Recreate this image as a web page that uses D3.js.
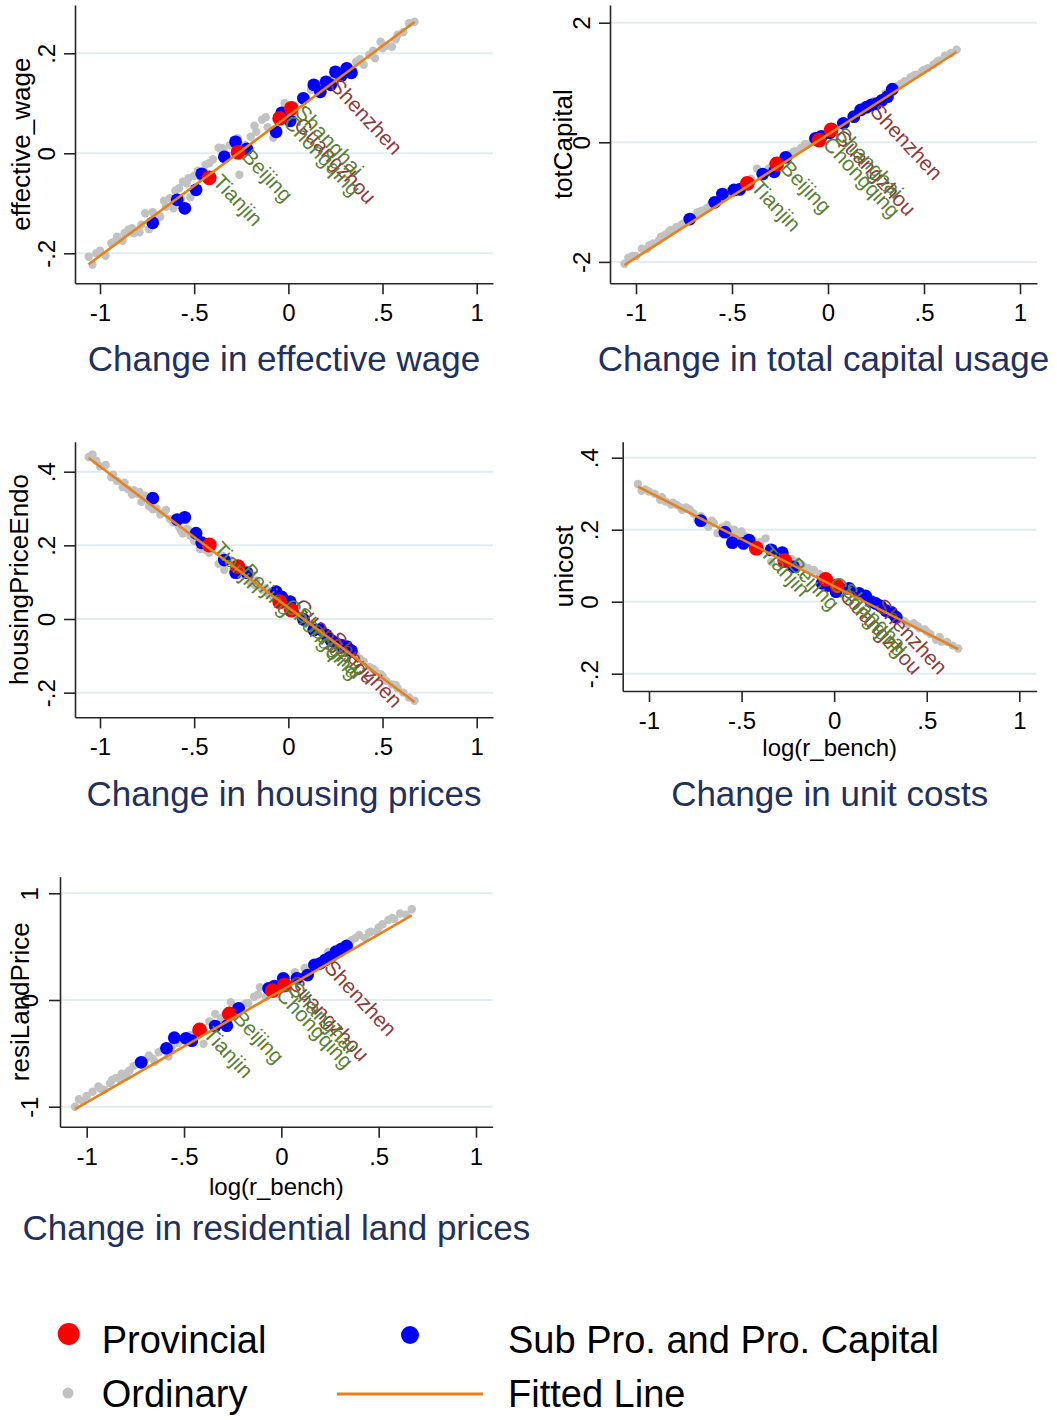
<!DOCTYPE html>
<html>
<head>
<meta charset="utf-8">
<script src="https://cdn.jsdelivr.net/npm/d3@7"></script>
<style>
  body { margin: 0; background: #ffffff; }
  svg text { font-family: "Liberation Sans", Arial, Helvetica, sans-serif; }
</style>
</head>
<body>
<svg id="chart" width="1057" height="1420"></svg>
<script>
// ---------- data ----------
// x: log(r_bench) for ordinary prefecture cities
const ordinaryX = [-1.06,-1.04,-1.00,-0.97,-0.94,-0.91,-0.88,-0.85,-0.82,-0.80,
  -0.78,-0.76,-0.74,-0.70,-0.68,-0.65,-0.63,-0.61,-0.58,-0.56,
  -0.54,-0.52,-0.50,-0.47,-0.44,-0.40,-0.37,-0.34,-0.31,-0.29,
  -0.26,-0.23,-0.20,-0.17,-0.14,-0.11,-0.08,-0.05,-0.02,0.03,
  0.07,0.12,0.18,0.24,0.30,0.36,0.40,0.43,0.46,0.49,
  0.52,0.55,0.58,0.61,0.64,0.67,
  -1.02,-0.93,-0.87,-0.83,-0.79,-0.72,-0.66,-0.60,-0.57,-0.53,
  -0.48,-0.42,-0.35,-0.27,-0.18,-0.12,0.38,0.45,0.50,0.57];

// x: log(r_bench) for sub-provincial cities and provincial capitals
const subCapitalX = [-0.72,-0.59,-0.55,-0.49,-0.46,-0.34,-0.28,-0.22,-0.065,-0.035,
  0.01,0.08,0.135,0.17,0.2,0.225,0.25,0.28,0.31,0.335];
const subCapitalNames = ["","","","","","","","","","",
  "Guangzhou","","","","Shenzhen","","","","",""];

// x: log(r_bench) for provincial-level municipalities
const provincialX = [-0.42,-0.267,-0.046,0.016];
const provincialNames = ["Tianjin","Beijing","Chongqing","Shanghai"];

// effective_wage
const wageOrdinary = [-0.207,-0.223,-0.195,-0.205,-0.180,-0.167,-0.175,-0.153,-0.160,-0.157,
  -0.143,-0.120,-0.152,-0.130,-0.127,-0.107,-0.090,-0.110,-0.070,-0.057,
  -0.060,-0.088,-0.045,-0.047,-0.023,-0.012,0.011,0.002,0.016,0.027,
  -0.043,0.016,0.033,0.043,0.067,0.052,0.031,0.073,0.100,0.073,
  0.113,0.127,0.137,0.153,0.167,0.183,0.177,0.197,0.190,0.223,
  0.215,0.213,0.237,0.242,0.260,0.263,
  -0.200,-0.178,-0.160,-0.150,-0.158,-0.118,-0.095,-0.075,-0.092,-0.050,
  -0.035,-0.020,0.010,0.030,0.055,0.072,0.188,0.205,0.210,0.228];
const wageSubCapital = [-0.139,-0.093,-0.110,-0.073,-0.041,-0.007,0.023,0.009,0.043,0.081,
  0.065,0.110,0.137,0.123,0.143,0.137,0.163,0.155,0.170,0.161];
const wageProvincial = [-0.049,0.002,0.070,0.090];

// totCapital
const capitalOrdinary = [-2.03,-1.93,-1.90,-1.78,-1.78,-1.69,-1.64,-1.55,-1.47,-1.46,
  -1.41,-1.37,-1.33,-1.25,-1.17,-1.14,-1.10,-1.03,-0.99,-0.96,
  -0.89,-0.87,-0.83,-0.76,-0.70,-0.61,-0.44,-0.50,-0.44,-0.38,
  -0.34,-0.27,-0.20,-0.15,-0.09,-0.04,0.03,0.08,0.13,0.24,
  0.33,0.43,0.56,0.69,0.82,0.94,1.02,1.09,1.13,1.19,
  1.24,1.30,1.37,1.45,1.49,1.55,
  -1.90,-1.72,-1.58,-1.50,-1.42,-1.27,-1.15,-1.02,-0.97,-0.88,
  -0.77,-0.66,-0.50,-0.33,-0.16,-0.03,0.98,1.12,1.21,1.35];
const capitalSubCapital = [-1.284,-1.004,-0.865,-0.798,-0.787,-0.531,-0.494,-0.251,0.067,0.10,
  0.16,0.318,0.429,0.541,0.586,0.624,0.641,0.70,0.763,0.887];
const capitalProvincial = [-0.686,-0.363,0.038,0.206];

// housingPriceEndo
const housingOrdinary = [0.440,0.447,0.415,0.418,0.385,0.375,0.358,0.352,0.350,0.340,
  0.318,0.335,0.306,0.300,0.284,0.296,0.272,0.262,0.250,0.232,
  0.245,0.226,0.212,0.190,0.188,0.205,0.150,0.133,0.160,0.148,
  0.120,0.128,0.100,0.105,0.080,0.070,0.060,0.055,0.035,0.018,
  0.008,-0.015,-0.035,-0.055,-0.078,-0.098,-0.115,-0.130,-0.140,-0.150,
  -0.168,-0.178,-0.188,-0.200,-0.213,-0.222,
  0.430,0.392,0.370,0.338,0.345,0.298,0.290,0.268,0.240,0.242,
  0.222,0.180,0.172,0.138,0.092,0.083,-0.108,-0.135,-0.155,-0.180];
const housingSubCapital = [0.328,0.270,0.276,0.233,0.207,0.160,0.126,0.126,0.074,0.060,
  0.047,-0.001,-0.030,-0.028,-0.043,-0.057,-0.065,-0.071,-0.075,-0.086];
const housingProvincial = [0.201,0.142,0.047,0.024];

// unicost
const unitCostOrdinary = [0.327,0.308,0.306,0.300,0.283,0.278,0.270,0.269,0.255,0.262,
  0.256,0.245,0.229,0.222,0.208,0.218,0.190,0.205,0.213,0.190,
  0.200,0.185,0.195,0.178,0.171,0.165,0.176,0.111,0.130,0.140,
  0.125,0.118,0.111,0.100,0.093,0.088,0.078,0.071,0.060,0.045,
  0.030,0.016,0.002,-0.012,-0.032,-0.051,-0.063,-0.060,-0.074,-0.077,
  -0.090,-0.106,-0.111,-0.112,-0.122,-0.130,
  0.312,0.290,0.275,0.262,0.258,0.238,0.225,0.207,0.205,0.192,
  0.182,0.160,0.150,0.128,0.105,0.085,-0.054,-0.068,-0.083,-0.098];
const unitCostSubCapital = [0.225,0.193,0.164,0.162,0.171,0.144,0.136,0.097,0.051,0.045,
  0.028,0.037,0.023,0.016,0.000,-0.005,-0.012,-0.025,-0.030,-0.043];
const unitCostProvincial = [0.148,0.114,0.062,0.044];

// resiLandPrice
const landOrdinary = [-1.00,-0.93,-0.90,-0.86,-0.81,-0.84,-0.78,-0.73,-0.69,-0.72,
  -0.66,-0.62,-0.60,-0.56,-0.52,-0.58,-0.49,-0.47,-0.53,-0.43,
  -0.40,-0.38,-0.36,-0.33,-0.31,-0.41,-0.20,-0.13,-0.17,-0.14,
  -0.02,-0.09,-0.05,-0.03,0.03,0.12,0.03,0.10,0.12,0.16,
  0.26,0.30,0.33,0.45,0.49,0.56,0.61,0.58,0.64,0.64,
  0.71,0.75,0.76,0.81,0.80,0.85,
  -0.95,-0.83,-0.75,-0.74,-0.68,-0.60,-0.55,-0.47,-0.46,-0.40,
  -0.36,-0.30,-0.22,-0.10,-0.03,0.05,0.58,0.63,0.68,0.77];
const landSubCapital = [-0.584,-0.453,-0.353,-0.359,-0.381,-0.244,-0.241,-0.078,0.109,0.13,
  0.203,0.203,0.234,0.328,0.344,0.375,0.40,0.453,0.48,0.506];
const landProvincial = [-0.28,-0.13,0.087,0.14];

// linear fits (intercept, slope) for each panel
const fitIntercepts = [0.075, 0.13, 0.031, 0.043, 0.09];
const fitSlopes = [0.28, 2.06, -0.383, -0.261, 1.05];

// axis ticks
const xTicks = [-1, -0.5, 0, 0.5, 1];
const xTickLabels = ["-1", "-.5", "0", ".5", "1"];
const wageTicks = [-0.2, 0, 0.2];
const wageTickLabels = ["-.2", "0", ".2"];
const capitalTicks = [-2, 0, 2];
const capitalTickLabels = ["-2", "0", "2"];
const housingTicks = [-0.2, 0, 0.2, 0.4];
const housingTickLabels = ["-.2", "0", ".2", ".4"];
const unitCostTicks = [-0.2, 0, 0.2, 0.4];
const unitCostTickLabels = ["-.2", "0", ".2", ".4"];
const landTicks = [-1, 0, 1];
const landTickLabels = ["-1", "0", "1"];

const panelTitles = ["Change in effective wage", "Change in total capital usage",
  "Change in housing prices", "Change in unit costs", "Change in residential land prices"];
const yTitles = ["effective_wage", "totCapital", "housingPriceEndo", "unicost", "resiLandPrice"];
const xTitle = "log(r_bench)";

const legendLabels = ["Provincial", "Sub Pro. and Pro. Capital", "Ordinary", "Fitted Line"];

// ---------- styles ----------
const FONT = '"Liberation Sans", Arial, Helvetica, sans-serif';
const COL = {
  ordinary: "#c2c2c2", sub: "#0000ff", prov: "#ff0000", fit: "#e5821c",
  axis: "#262626", grid: "#e3edf0", title: "#22305c",
  provLabel: "#5c8034", subLabel: "#8e3b3b"
};

// ---------- panel layout ----------
const panels = [
  { ord: wageOrdinary, sub: wageSubCapital, prov: wageProvincial, ticks: wageTicks, tickLabels: wageTickLabels,
    frame: { left: 75, top: 5, bottom: 283.3, right: 493 }, xPix: [100, 476.7],
    yRef: [0, 0.2], yPix: [153.3, 53.3], yTickX: 55, yTitleX: 30, titleY: 371, showX: false },
  { ord: capitalOrdinary, sub: capitalSubCapital, prov: capitalProvincial, ticks: capitalTicks, tickLabels: capitalTickLabels,
    frame: { left: 610, top: 5, bottom: 283.3, right: 1037 }, xPix: [636, 1020],
    yRef: [0, 2], yPix: [142.3, 22.7], yTickX: 590, yTitleX: 572, titleY: 371, showX: false },
  { ord: housingOrdinary, sub: housingSubCapital, prov: housingProvincial, ticks: housingTicks, tickLabels: housingTickLabels,
    frame: { left: 75, top: 441.7, bottom: 717.3, right: 493 }, xPix: [100, 476.7],
    yRef: [0, 0.4], yPix: [619, 471.7], yTickX: 55, yTitleX: 28, titleY: 806, showX: false },
  { ord: unitCostOrdinary, sub: unitCostSubCapital, prov: unitCostProvincial, ticks: unitCostTicks, tickLabels: unitCostTickLabels,
    frame: { left: 622.7, top: 441.7, bottom: 691, right: 1036.7 }, xPix: [649, 1019.3],
    yRef: [0, 0.4], yPix: [601.7, 457.7], yTickX: 598, yTitleX: 573, titleY: 806, showX: true, xTitleY: 756 },
  { ord: landOrdinary, sub: landSubCapital, prov: landProvincial, ticks: landTicks, tickLabels: landTickLabels,
    frame: { left: 60, top: 876.7, bottom: 1126.7, right: 492.7 }, xPix: [86.7, 476],
    yRef: [0, 1], yPix: [1000, 893.3], yTickX: 38, yTitleX: 29, titleY: 1240, showX: true, xTitleY: 1195 }
];

const svg = d3.select("#chart");

panels.forEach((p, i) => {
  const f = p.frame;
  const g = svg.append("g").attr("class", "panel");

  const xRef = d3.scaleLinear().domain([-1, 1]).range(p.xPix);
  const yRef = d3.scaleLinear().domain(p.yRef).range(p.yPix);
  // scales spanning the full plot frame
  const x = d3.scaleLinear().domain([xRef.invert(f.left), xRef.invert(f.right)]).range([f.left, f.right]);
  const y = d3.scaleLinear().domain([yRef.invert(f.bottom), yRef.invert(f.top)]).range([f.bottom, f.top]);

  // gridlines
  g.append("g").selectAll("line").data(p.ticks).join("line")
    .attr("x1", f.left).attr("x2", f.right)
    .attr("y1", d => y(d)).attr("y2", d => y(d))
    .attr("stroke", COL.grid).attr("stroke-width", 2);

  // y axis
  const ya = g.append("g").attr("transform", `translate(${f.left},0)`)
    .call(d3.axisLeft(y).tickValues(p.ticks).tickFormat((d, k) => p.tickLabels[k]).tickSize(11).tickSizeOuter(0));
  ya.attr("color", COL.axis).attr("font-size", 24).attr("font-family", FONT);
  ya.selectAll("path, line").attr("stroke-width", 1.6);
  ya.selectAll("text")
    .attr("x", null).attr("dy", null).attr("text-anchor", "middle").attr("fill", "#000")
    .attr("transform", `translate(${p.yTickX - f.left},0) rotate(-90)`);

  // x axis
  const xa = g.append("g").attr("transform", `translate(0,${f.bottom})`)
    .call(d3.axisBottom(x).tickValues(xTicks).tickFormat((d, k) => xTickLabels[k]).tickSize(11).tickSizeOuter(0));
  xa.attr("color", COL.axis).attr("font-size", 24).attr("font-family", FONT);
  xa.selectAll("path, line").attr("stroke-width", 1.6);
  xa.selectAll("text").attr("y", 38).attr("dy", null).attr("fill", "#000");

  // y title
  g.append("text")
    .attr("transform", `translate(${p.yTitleX},${(f.top + f.bottom) / 2}) rotate(-90)`)
    .attr("text-anchor", "middle").attr("font-size", 26).attr("fill", "#000")
    .text(yTitles[i]);

  // x title
  if (p.showX) {
    g.append("text").attr("x", (f.left + f.right) / 2).attr("y", p.xTitleY)
      .attr("text-anchor", "middle").attr("font-size", 24).attr("fill", "#000")
      .text(xTitle);
  }

  // panel title
  g.append("text").attr("x", (f.left + f.right) / 2).attr("y", p.titleY)
    .attr("text-anchor", "middle").attr("font-size", 35).attr("fill", COL.title)
    .text(panelTitles[i]);

  // ordinary cities
  g.append("g").selectAll("circle").data(ordinaryX.map((v, k) => [v, p.ord[k]])).join("circle")
    .attr("cx", d => x(d[0])).attr("cy", d => y(d[1])).attr("r", 4.2).attr("fill", COL.ordinary);

  // sub-provincial cities and provincial capitals
  const subData = subCapitalX.map((v, k) => ({ x: v, y: p.sub[k], name: subCapitalNames[k] }));
  g.append("g").selectAll("circle").data(subData).join("circle")
    .attr("cx", d => x(d.x)).attr("cy", d => y(d.y)).attr("r", 6.4).attr("fill", COL.sub);
  g.append("g").selectAll("text").data(subData.filter(d => d.name)).join("text")
    .attr("transform", d => `translate(${x(d.x) + 8},${y(d.y)}) rotate(47)`)
    .attr("dy", "0.35em").attr("font-size", 21).attr("fill", COL.subLabel)
    .text(d => d.name);

  // provincial-level municipalities
  const provData = provincialX.map((v, k) => ({ x: v, y: p.prov[k], name: provincialNames[k] }));
  g.append("g").selectAll("circle").data(provData).join("circle")
    .attr("cx", d => x(d.x)).attr("cy", d => y(d.y)).attr("r", 7.4).attr("fill", COL.prov);
  g.append("g").selectAll("text").data(provData).join("text")
    .attr("transform", d => `translate(${x(d.x) + 8},${y(d.y)}) rotate(47)`)
    .attr("dy", "0.35em").attr("font-size", 21).attr("fill", COL.provLabel)
    .text(d => d.name);

  // fitted line
  const ext = d3.extent(ordinaryX);
  g.append("path")
    .datum(ext.map(v => [v, fitIntercepts[i] + fitSlopes[i] * v]))
    .attr("d", d3.line().x(d => x(d[0])).y(d => y(d[1])))
    .attr("fill", "none").attr("stroke", COL.fit).attr("stroke-width", 2.6);
});

// ---------- legend ----------
const lg = svg.append("g").attr("font-size", 38).attr("fill", "#000");
lg.append("circle").attr("cx", 68.7).attr("cy", 1334).attr("r", 11).attr("fill", COL.prov);
lg.append("text").attr("x", 101.7).attr("y", 1353).text(legendLabels[0]);
lg.append("circle").attr("cx", 410).attr("cy", 1335).attr("r", 9).attr("fill", COL.sub);
lg.append("text").attr("x", 508).attr("y", 1353).text(legendLabels[1]);
lg.append("circle").attr("cx", 68).attr("cy", 1393).attr("r", 5.5).attr("fill", COL.ordinary);
lg.append("text").attr("x", 101.7).attr("y", 1407).text(legendLabels[2]);
lg.append("line").attr("x1", 337).attr("x2", 483).attr("y1", 1394).attr("y2", 1394)
  .attr("stroke", COL.fit).attr("stroke-width", 3);
lg.append("text").attr("x", 508).attr("y", 1407).text(legendLabels[3]);
</script>
</body>
</html>
